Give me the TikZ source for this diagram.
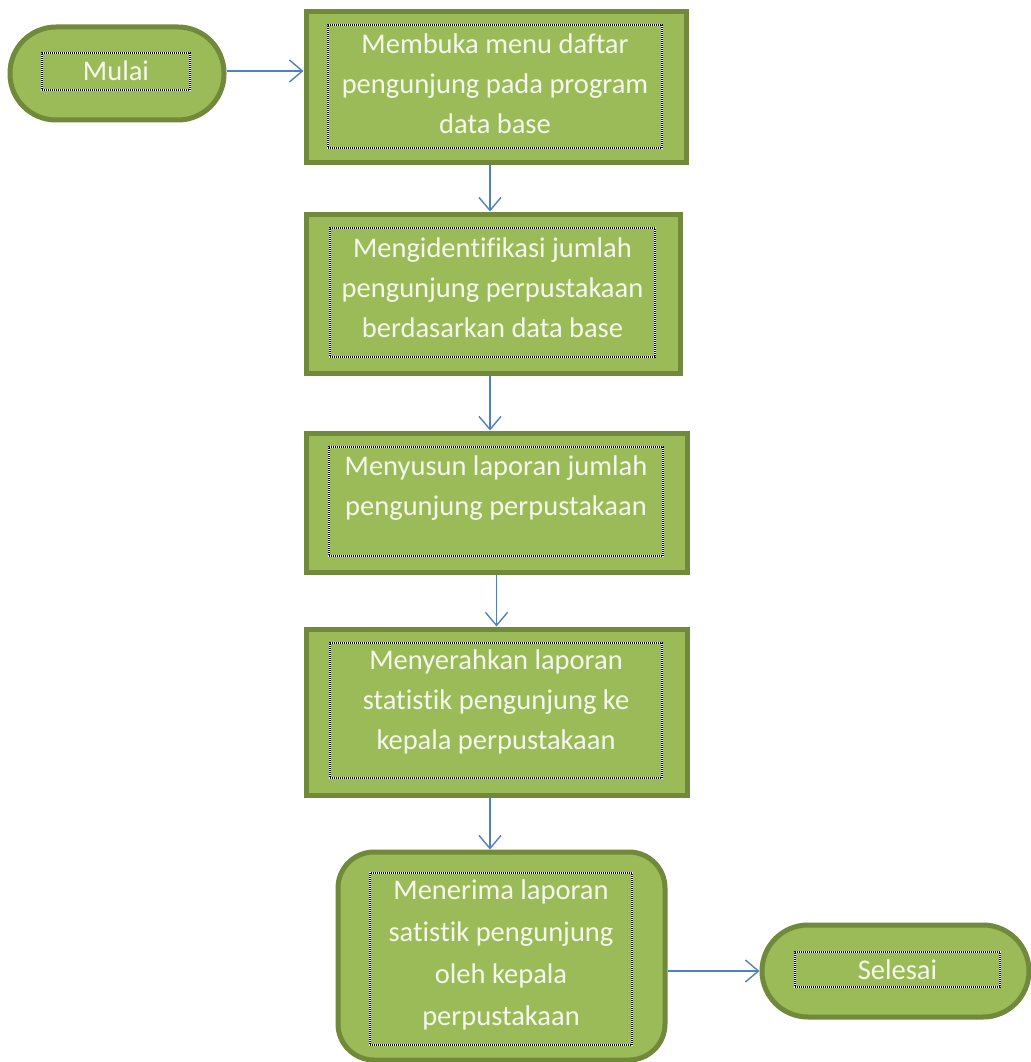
\documentclass[tikz,border=0pt]{standalone}
\usepackage{fontspec}
\setmainfont{Carlito}[Ligatures={NoCommon,NoRequired,NoContextual}]
\usetikzlibrary{arrows.meta,calc}
\newcommand{\nlg}{\kern0pt }
\definecolor{boxfill}{HTML}{9BBB59}
\definecolor{boxline}{HTML}{71893A}
\definecolor{arrowc}{HTML}{4F81BD}
\definecolor{txt}{HTML}{F4F9EC}
\tikzset{
  box/.style={draw=boxline, fill=boxfill, line width=5pt, inner sep=0pt},
  frame/.style={draw=white, line width=2pt, inner sep=0pt,
    postaction={draw=black, line width=2pt, dash pattern=on 1pt off 1pt}},
  lbl/.style={text=txt, align=center, inner sep=0pt,
    font=\fontsize{28.5}{40}\selectfont},
  conn/.style={draw=arrowc, line width=1.4pt,
    -{Straight Barb[length=13pt,width=22pt,line width=1.4pt]}}
}
\begin{document}
\begin{tikzpicture}[x=1pt,y=-1pt]
\useasboundingbox (0,0) rectangle (1030,1062);
% main shapes
\node[box, rounded corners=46pt, minimum width=214pt, minimum height=93pt] (mulai) at (117,73.5) {};
\node[box, minimum width=380pt, minimum height=150pt] (b1) at (496,87) {};
\node[box, minimum width=374pt, minimum height=159pt] (b2) at (493,293.5) {};
\node[box, minimum width=381pt, minimum height=139pt] (b3) at (496.5,502.5) {};
\node[box, minimum width=381pt, minimum height=166pt] (b4) at (496.5,712) {};
\node[box, rounded corners=36pt, minimum width=327pt, minimum height=208pt] (b5) at (501.5,956) {};
\node[box, rounded corners=46pt, minimum width=267pt, minimum height=92pt] (sel) at (895.5,971) {};
% dotted text frames
\node[frame, minimum width=148pt, minimum height=37pt] (f0) at (116,71.5) {};
\node[frame, minimum width=334pt, minimum height=123pt] (f1) at (495,86.5) {};
\node[frame, minimum width=325pt, minimum height=129pt] (f2) at (492.5,292.5) {};
\node[frame, minimum width=334pt, minimum height=109pt] (f3) at (496,501.5) {};
\node[frame, minimum width=332pt, minimum height=135pt] (f4) at (496,710.5) {};
\node[frame, minimum width=262pt, minimum height=172pt] (f5) at (501,959) {};
\node[frame, minimum width=205pt, minimum height=35pt] (f6) at (897.5,969.5) {};
% texts
\node[lbl] (t0) at (116,71) {Mulai};
\node[lbl] (t1) at (495,84) {Membuka menu daftar\\pengunjung pada program\\data base};
\node[lbl] (t2) at (492.5,288) {Mengiden\nlg tifikasi jumlah\\pengunjung perpustakaan\\berdasarkan data base};
\node[lbl] (t3) at (496,488) {Menyusun laporan jumlah\\pengunjung perpustakaan};
\node[lbl] (t4) at (496,702) {Menyerahkan laporan\\stat\nlg is\nlg tik pengunjung ke\\kepala perpustakaan};
\node[lbl, font=\fontsize{28.5}{42}\selectfont] (t5) at (501,955) {Menerima laporan\\sat\nlg is\nlg tik pengunjung\\oleh kepala\\perpustakaan};
\node[lbl] (t6) at (897.5,970) {Selesai};
% connectors
\draw[conn] ([yshift=2.5pt]mulai.east) -- ([yshift=2.5pt]mulai.east -| b1.west);
\draw[conn] ([xshift=-6pt]b1.south) -- ([xshift=-6pt]b1.south |- b2.north);
\draw[conn] ([xshift=-3pt]b2.south) -- ([xshift=-3pt]b2.south |- b3.north);
\draw[conn] (b3.south) -- (b3.south |- b4.north);
\draw[conn] ([xshift=-6.5pt]b4.south) -- ([xshift=-6.5pt]b4.south |- b5.north);
\draw[conn] (b5.east |- sel.west) -- (sel.west);
\end{tikzpicture}
\end{document}
